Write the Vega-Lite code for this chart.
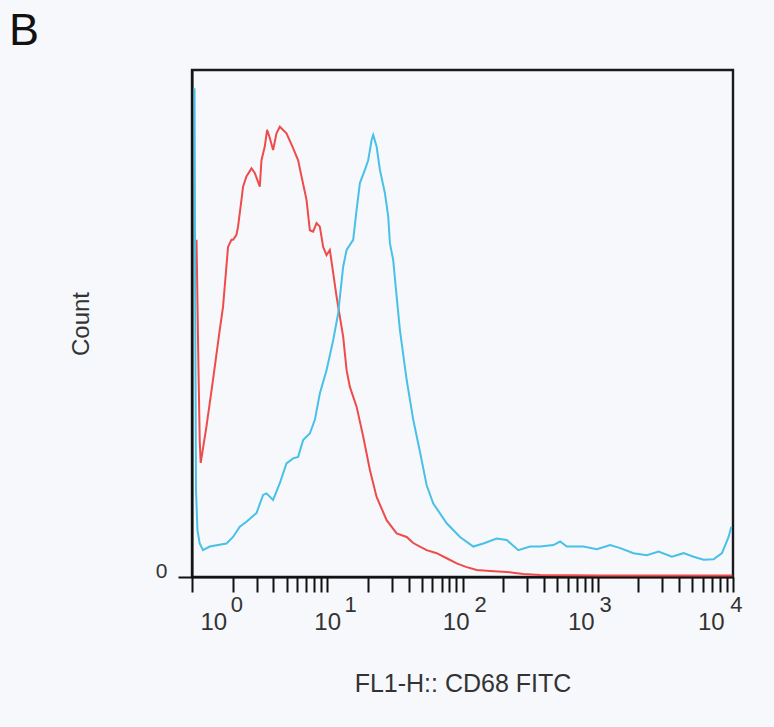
{
  "$schema": "https://vega.github.io/schema/vega-lite/v6.json",
  "width": 541,
  "height": 507,
  "autosize": {"type": "none"},
  "padding": {"left": 192, "top": 70, "right": 41, "bottom": 150},
  "background": "#f6f8fb",
  "config": {
    "view": {"stroke": "#1a1a1a", "strokeWidth": 2.4}
  },
  "title": {"text": "B", "anchor": "start", "frame": "group", "orient": "top", "font": "Liberation Sans", "fontSize": 45, "fontWeight": "normal", "color": "#111111", "baseline": "top", "offset": 0, "dx": -183, "dy": -16},
  "data": {"values": [
    {"series": "isotype", "x": 1.080, "count": 66.5},
    {"series": "isotype", "x": 1.111, "count": 44.8},
    {"series": "isotype", "x": 1.140, "count": 27.0},
    {"series": "isotype", "x": 1.160, "count": 22.5},
    {"series": "isotype", "x": 1.278, "count": 29.6},
    {"series": "isotype", "x": 1.430, "count": 38.9},
    {"series": "isotype", "x": 1.603, "count": 48.7},
    {"series": "isotype", "x": 1.696, "count": 53.3},
    {"series": "isotype", "x": 1.847, "count": 65.1},
    {"series": "isotype", "x": 1.957, "count": 66.5},
    {"series": "isotype", "x": 2.012, "count": 66.5},
    {"series": "isotype", "x": 2.132, "count": 67.5},
    {"series": "isotype", "x": 2.190, "count": 69.1},
    {"series": "isotype", "x": 2.321, "count": 74.4},
    {"series": "isotype", "x": 2.385, "count": 77.0},
    {"series": "isotype", "x": 2.527, "count": 79.0},
    {"series": "isotype", "x": 2.753, "count": 80.6},
    {"series": "isotype", "x": 2.912, "count": 79.7},
    {"series": "isotype", "x": 3.171, "count": 77.0},
    {"series": "isotype", "x": 3.264, "count": 82.2},
    {"series": "isotype", "x": 3.452, "count": 84.9},
    {"series": "isotype", "x": 3.591, "count": 88.2},
    {"series": "isotype", "x": 3.760, "count": 86.6},
    {"series": "isotype", "x": 3.978, "count": 84.2},
    {"series": "isotype", "x": 4.215, "count": 87.5},
    {"series": "isotype", "x": 4.459, "count": 88.8},
    {"series": "isotype", "x": 4.996, "count": 87.5},
    {"series": "isotype", "x": 5.593, "count": 84.6},
    {"series": "isotype", "x": 6.091, "count": 82.2},
    {"series": "isotype", "x": 6.454, "count": 79.0},
    {"series": "isotype", "x": 7.028, "count": 74.4},
    {"series": "isotype", "x": 7.434, "count": 68.4},
    {"series": "isotype", "x": 7.864, "count": 68.1},
    {"series": "isotype", "x": 8.333, "count": 69.8},
    {"series": "isotype", "x": 8.814, "count": 69.1},
    {"series": "isotype", "x": 9.326, "count": 65.1},
    {"series": "isotype", "x": 9.881, "count": 63.5},
    {"series": "isotype", "x": 10.45, "count": 64.5},
    {"series": "isotype", "x": 11.06, "count": 60.0},
    {"series": "isotype", "x": 11.72, "count": 55.3},
    {"series": "isotype", "x": 12.40, "count": 51.3},
    {"series": "isotype", "x": 13.11, "count": 47.4},
    {"series": "isotype", "x": 13.90, "count": 40.8},
    {"series": "isotype", "x": 14.70, "count": 37.5},
    {"series": "isotype", "x": 16.48, "count": 33.6},
    {"series": "isotype", "x": 18.44, "count": 27.7},
    {"series": "isotype", "x": 20.67, "count": 21.1},
    {"series": "isotype", "x": 23.17, "count": 15.8},
    {"series": "isotype", "x": 27.48, "count": 11.2},
    {"series": "isotype", "x": 32.59, "count": 8.6},
    {"series": "isotype", "x": 38.64, "count": 7.9},
    {"series": "isotype", "x": 43.24, "count": 6.7},
    {"series": "isotype", "x": 48.46, "count": 6.0},
    {"series": "isotype", "x": 54.33, "count": 5.3},
    {"series": "isotype", "x": 64.42, "count": 4.7},
    {"series": "isotype", "x": 76.39, "count": 3.7},
    {"series": "isotype", "x": 90.60, "count": 2.7},
    {"series": "isotype", "x": 106.1, "count": 2.0},
    {"series": "isotype", "x": 127.4, "count": 1.4},
    {"series": "isotype", "x": 159.8, "count": 1.2},
    {"series": "isotype", "x": 212.4, "count": 1.0},
    {"series": "isotype", "x": 244.7, "count": 0.8},
    {"series": "isotype", "x": 281.8, "count": 0.6},
    {"series": "isotype", "x": 374.8, "count": 0.4},
    {"series": "isotype", "x": 1042, "count": 0.3},
    {"series": "isotype", "x": 5728, "count": 0.3},
    {"series": "isotype", "x": 9885, "count": 0.3},
    {"series": "CD68", "x": 1.044, "count": 96.4},
    {"series": "CD68", "x": 1.056, "count": 54.6},
    {"series": "CD68", "x": 1.070, "count": 17.2},
    {"series": "CD68", "x": 1.097, "count": 9.3},
    {"series": "CD68", "x": 1.140, "count": 6.6},
    {"series": "CD68", "x": 1.206, "count": 5.3},
    {"series": "CD68", "x": 1.352, "count": 6.0},
    {"series": "CD68", "x": 1.798, "count": 6.6},
    {"series": "CD68", "x": 2.012, "count": 7.9},
    {"series": "CD68", "x": 2.255, "count": 9.9},
    {"series": "CD68", "x": 2.527, "count": 10.9},
    {"series": "CD68", "x": 2.997, "count": 12.6},
    {"series": "CD68", "x": 3.354, "count": 16.2},
    {"series": "CD68", "x": 3.554, "count": 16.5},
    {"series": "CD68", "x": 3.978, "count": 15.2},
    {"series": "CD68", "x": 4.459, "count": 18.5},
    {"series": "CD68", "x": 4.996, "count": 22.4},
    {"series": "CD68", "x": 5.593, "count": 23.4},
    {"series": "CD68", "x": 6.091, "count": 23.7},
    {"series": "CD68", "x": 6.632, "count": 27.0},
    {"series": "CD68", "x": 7.434, "count": 28.3},
    {"series": "CD68", "x": 8.097, "count": 31.0},
    {"series": "CD68", "x": 8.814, "count": 36.2},
    {"series": "CD68", "x": 9.881, "count": 40.8},
    {"series": "CD68", "x": 11.06, "count": 46.7},
    {"series": "CD68", "x": 12.04, "count": 52.0},
    {"series": "CD68", "x": 13.11, "count": 61.2},
    {"series": "CD68", "x": 13.90, "count": 64.5},
    {"series": "CD68", "x": 15.55, "count": 66.5},
    {"series": "CD68", "x": 16.48, "count": 72.4},
    {"series": "CD68", "x": 17.43, "count": 77.7},
    {"series": "CD68", "x": 18.98, "count": 80.3},
    {"series": "CD68", "x": 20.08, "count": 82.2},
    {"series": "CD68", "x": 21.28, "count": 86.2},
    {"series": "CD68", "x": 21.87, "count": 87.2},
    {"series": "CD68", "x": 23.17, "count": 84.9},
    {"series": "CD68", "x": 24.51, "count": 80.3},
    {"series": "CD68", "x": 26.70, "count": 75.7},
    {"series": "CD68", "x": 28.24, "count": 71.1},
    {"series": "CD68", "x": 29.07, "count": 65.8},
    {"series": "CD68", "x": 30.74, "count": 62.5},
    {"series": "CD68", "x": 32.59, "count": 55.3},
    {"series": "CD68", "x": 34.46, "count": 48.7},
    {"series": "CD68", "x": 38.64, "count": 38.9},
    {"series": "CD68", "x": 43.24, "count": 31.0},
    {"series": "CD68", "x": 48.46, "count": 24.7},
    {"series": "CD68", "x": 54.33, "count": 18.1},
    {"series": "CD68", "x": 60.79, "count": 14.5},
    {"series": "CD68", "x": 76.39, "count": 10.6},
    {"series": "CD68", "x": 95.83, "count": 7.9},
    {"series": "CD68", "x": 120.2, "count": 6.0},
    {"series": "CD68", "x": 142.6, "count": 6.6},
    {"series": "CD68", "x": 179.1, "count": 7.6},
    {"series": "CD68", "x": 212.4, "count": 7.3},
    {"series": "CD68", "x": 258.8, "count": 5.3},
    {"series": "CD68", "x": 315.9, "count": 6.0},
    {"series": "CD68", "x": 374.8, "count": 6.0},
    {"series": "CD68", "x": 469.9, "count": 6.3},
    {"series": "CD68", "x": 526.9, "count": 7.0},
    {"series": "CD68", "x": 590.7, "count": 6.0},
    {"series": "CD68", "x": 784.0, "count": 6.0},
    {"series": "CD68", "x": 984.7, "count": 5.5},
    {"series": "CD68", "x": 1236, "count": 6.3},
    {"series": "CD68", "x": 1465, "count": 5.7},
    {"series": "CD68", "x": 1838, "count": 4.7},
    {"series": "CD68", "x": 2309, "count": 4.3},
    {"series": "CD68", "x": 2814, "count": 5.0},
    {"series": "CD68", "x": 3536, "count": 4.0},
    {"series": "CD68", "x": 4309, "count": 4.7},
    {"series": "CD68", "x": 5110, "count": 4.0},
    {"series": "CD68", "x": 6059, "count": 3.4},
    {"series": "CD68", "x": 7184, "count": 3.5},
    {"series": "CD68", "x": 8289, "count": 4.7},
    {"series": "CD68", "x": 9277, "count": 7.9},
    {"series": "CD68", "x": 9714, "count": 9.9}
  ]},
  "encoding": {
    "y": {
      "field": "count", "type": "quantitative",
      "scale": {"domain": [0, 100], "nice": false},
      "axis": {
        "title": "Count", "values": [0], "grid": false,
        "tickSize": 14, "tickWidth": 2, "tickColor": "#111111",
        "domainColor": "#111111", "domainWidth": 2,
        "labelFont": "Liberation Sans", "labelFontSize": 21, "labelColor": "#333333",
        "labelBaseline": "alphabetic", "labelPadding": 11,
        "titleFont": "Liberation Sans", "titleFontSize": 24, "titleFontWeight": "normal", "titleColor": "#333333", "titlePadding": 62
      }
    }
  },
  "layer": [
    {
      "transform": [{"filter": "datum.series == 'isotype'"}],
      "mark": {"type": "line", "color": "#ef4b4b", "strokeWidth": 2, "clip": true},
      "encoding": {
        "x": {
          "field": "x", "type": "quantitative",
          "scale": {"type": "log", "domain": [1, 10000], "nice": false},
          "axis": {
            "orient": "bottom",
            "title": "FL1-H:: CD68 FITC",
            "values": [1,2,3,4,5,6,7,8,9,10,20,30,40,50,60,70,80,90,100,200,300,400,500,600,700,800,900,1000,2000,3000,4000,5000,6000,7000,8000,9000,10000],
            "grid": false,
            "tickSize": 15, "tickWidth": 2, "tickColor": "#111111",
            "domainColor": "#111111", "domainWidth": 2,
            "labelFont": "Liberation Sans", "labelFontSize": 24, "labelColor": "#333333",
            "labelAlign": "left", "labelBaseline": "top", "labelPadding": 18,
            "labelOverlap": false, "labelBound": false, "labelFlush": false,
            "labelExpr": "indexof([1,10,100,1000,10000], datum.value) >= 0 ? '10' : ''",
            "labelOffset": {"condition": [
              {"test": "datum.value == 1", "value": 8},
              {"test": "datum.value == 10", "value": -13.4},
              {"test": "datum.value == 100", "value": -20.2},
              {"test": "datum.value == 1000", "value": -30.3}
            ], "value": -35.5},
            "titleFont": "Liberation Sans", "titleFontSize": 25, "titleFontWeight": "normal", "titleColor": "#333333", "titlePadding": 37,
            "encode": {
              "ticks": {"update": {"y2": {"signal": "indexof([1,10,100,1000,10000], datum.value) >= 0 ? 15 : (indexof([5,50,500,5000], datum.value) >= 0 ? 9 : 6)"}}}
            }
          }
        }
      }
    },
    {
      "transform": [{"filter": "datum.series == 'CD68'"}],
      "mark": {"type": "line", "color": "#48c0e8", "strokeWidth": 2, "clip": true},
      "encoding": {
        "x": {
          "field": "x", "type": "quantitative",
          "scale": {"type": "log", "domain": [1, 10000], "nice": false},
          "axis": {
            "orient": "bottom",
            "title": null,
            "values": [1, 10, 100, 1000, 10000],
            "grid": false, "ticks": false, "tickSize": 0, "domain": false,
            "labelFont": "Liberation Sans", "labelFontSize": 22, "labelColor": "#333333",
            "labelAlign": "left", "labelBaseline": "top", "labelPadding": 17,
            "labelOverlap": false, "labelBound": false, "labelFlush": false,
            "labelExpr": "format(round(log(datum.value)/LN10), 'd')",
            "labelOffset": {"condition": [
              {"test": "datum.value == 1", "value": 38.3},
              {"test": "datum.value == 10", "value": 16.8},
              {"test": "datum.value == 100", "value": 11.6},
              {"test": "datum.value == 1000", "value": 1.3}
            ], "value": -3.2}
          }
        }
      }
    }
  ],
  "resolve": {"scale": {"x": "shared"}, "axis": {"x": "independent"}}
}
